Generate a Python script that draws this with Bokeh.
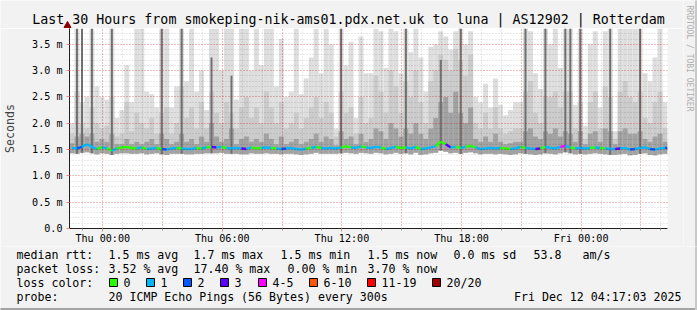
import numpy as np
from datetime import datetime, timedelta
from bokeh.plotting import figure
from bokeh.layouts import column, row
from bokeh.models import (FixedTicker, DatetimeTickFormatter, CustomJSTickFormatter,
                          Range1d, ColumnDataSource)
from bokeh.core.properties import value
from bokeh.embed import file_html
from bokeh.resources import INLINE

# ---------------- data ----------------
TITLE = "Last 30 Hours from smokeping-nik-ams01.pdx.net.uk to luna | AS12902 | Rotterdam"
START = datetime(2025, 12, 10, 22, 20)
END = datetime(2025, 12, 12, 4, 20)
STEP_MIN = 15
LABEL_TICKS = [datetime(2025, 12, 11, 0), datetime(2025, 12, 11, 6), datetime(2025, 12, 11, 12),
               datetime(2025, 12, 11, 18), datetime(2025, 12, 12, 0)]
Y_TICKS = [0.0, 0.5, 1.0, 1.5, 2.0, 2.5, 3.0, 3.5]

# median rtt (ms) per 15-minute column
MEDIAN = [1.53, 1.52, 1.55, 1.60, 1.55, 1.51, 1.54, 1.53, 1.48, 1.52,
          1.54, 1.55, 1.53, 1.52, 1.54, 1.51, 1.52, 1.53, 1.51, 1.50,
          1.52, 1.53, 1.52, 1.51, 1.51, 1.53, 1.52, 1.54, 1.55, 1.54,
          1.55, 1.53, 1.52, 1.53, 1.52, 1.51, 1.54, 1.52, 1.53, 1.54,
          1.53, 1.52, 1.51, 1.52, 1.53, 1.51, 1.50, 1.52, 1.53, 1.55,
          1.53, 1.52, 1.53, 1.52, 1.54, 1.56, 1.54, 1.53, 1.56, 1.54,
          1.53, 1.55, 1.54, 1.51, 1.53, 1.55, 1.53, 1.54, 1.52, 1.55,
          1.51, 1.52, 1.54, 1.56, 1.65, 1.60, 1.54, 1.55, 1.53, 1.55,
          1.57, 1.54, 1.51, 1.52, 1.53, 1.52, 1.53, 1.52, 1.51, 1.52,
          1.55, 1.53, 1.52, 1.51, 1.52, 1.55, 1.53, 1.52, 1.55, 1.57,
          1.54, 1.52, 1.53, 1.52, 1.53, 1.54, 1.53, 1.52, 1.51, 1.51,
          1.52, 1.53, 1.50, 1.51, 1.53, 1.54, 1.51, 1.50, 1.52, 1.53]

# loss colour bucket per column (0:"0",1:"1",2:"2",3:"3",4:"4-5",...)
LOSS_BUCKET = [1, 2, 1, 1, 1, 0, 1, 0, 1, 0, 0, 0, 0, 1, 0, 1, 1, 0, 2, 1,
               1, 0, 1, 1, 1, 0, 1, 0, 3, 1, 0, 1, 1, 1, 3, 1, 0, 0, 1, 1,
               0, 1, 2, 1, 1, 1, 1, 0, 1, 0, 1, 1, 1, 1, 0, 0, 1, 1, 0, 1,
               1, 1, 0, 1, 1, 0, 0, 1, 1, 0, 1, 1, 1, 0, 0, 3, 1, 0, 1, 0,
               0, 1, 1, 1, 1, 1, 0, 0, 1, 1, 0, 1, 1, 3, 0, 1, 1, 1, 4, 1,
               0, 1, 1, 1, 0, 1, 0, 1, 1, 3, 1, 1, 2, 1, 1, 1, 2, 1, 1, 2]

# smoke: lowest ping, and tops of the light / medium / dark bands (ms)
SMOKE_MIN = [1.43, 1.42, 1.44, 1.45, 1.43, 1.41, 1.43, 1.42, 1.40, 1.42,
             1.43, 1.43, 1.42, 1.42, 1.43, 1.41, 1.42, 1.43, 1.41, 1.40,
             1.42, 1.42, 1.42, 1.41, 1.41, 1.42, 1.42, 1.43, 1.43, 1.43,
             1.44, 1.42, 1.42, 1.42, 1.41, 1.41, 1.43, 1.42, 1.42, 1.43,
             1.42, 1.42, 1.41, 1.42, 1.42, 1.41, 1.40, 1.41, 1.42, 1.44,
             1.42, 1.42, 1.42, 1.42, 1.43, 1.44, 1.43, 1.42, 1.44, 1.43,
             1.42, 1.44, 1.43, 1.41, 1.42, 1.44, 1.42, 1.43, 1.41, 1.44,
             1.40, 1.41, 1.43, 1.44, 1.48, 1.46, 1.43, 1.44, 1.42, 1.44,
             1.45, 1.43, 1.41, 1.42, 1.42, 1.41, 1.42, 1.41, 1.40, 1.41,
             1.43, 1.42, 1.41, 1.40, 1.41, 1.43, 1.42, 1.41, 1.43, 1.45,
             1.43, 1.41, 1.42, 1.41, 1.42, 1.43, 1.42, 1.41, 1.40, 1.40,
             1.41, 1.42, 1.39, 1.40, 1.42, 1.43, 1.40, 1.39, 1.41, 1.42]
SMOKE_MAX = [2.00, 3.80, 2.40, 2.50, 3.80, 2.70, 2.50, 2.45, 3.80, 2.10,
             2.25, 3.10, 2.40, 3.80, 3.80, 2.60, 2.55, 2.30, 3.80, 3.80,
             2.30, 2.70, 3.80, 2.80, 3.80, 2.60, 3.00, 2.25, 3.80, 3.80,
             3.00, 3.80, 3.80, 2.45, 3.80, 3.80, 3.00, 3.80, 3.10, 3.80,
             3.80, 2.70, 3.60, 2.50, 2.60, 3.80, 2.55, 2.85, 3.25, 3.80,
             2.95, 3.80, 3.50, 1.90, 3.80, 3.10, 3.55, 2.10, 3.65, 2.95,
             2.95, 3.80, 3.75, 3.05, 3.80, 3.75, 2.95, 3.80, 3.35, 3.80,
             3.25, 2.60, 3.45, 3.50, 3.75, 3.65, 3.40, 3.75, 3.80, 3.50,
             3.75, 2.50, 2.40, 2.75, 2.30, 2.85, 2.35, 2.15, 2.25, 2.40,
             2.40, 3.80, 3.75, 2.95, 2.65, 3.80, 3.50, 3.80, 3.05, 3.80,
             3.80, 2.35, 3.80, 1.95, 3.50, 3.75, 2.30, 3.75, 3.80, 1.85,
             3.80, 3.80, 3.80, 3.80, 3.80, 2.95, 2.80, 3.25, 3.80, 2.40]
SMOKE_MID = [1.80, 2.60, 2.00, 1.90, 2.30, 2.00, 1.90, 1.95, 2.50, 1.75,
             1.80, 2.40, 1.85, 2.20, 2.00, 1.90, 2.10, 1.80, 2.20, 2.30,
             1.80, 2.00, 2.70, 2.10, 2.30, 1.90, 2.40, 1.90, 2.60, 2.20,
             2.00, 2.40, 2.20, 1.90, 2.30, 2.50, 2.10, 2.30, 2.00, 2.60,
             2.30, 2.00, 2.40, 1.90, 2.00, 2.20, 1.90, 2.10, 2.30, 2.50,
             2.10, 2.40, 2.20, 1.75, 2.60, 2.20, 2.30, 1.80, 2.50, 2.00,
             2.10, 2.90, 2.60, 2.20, 3.00, 2.70, 2.20, 2.80, 2.50, 3.00,
             2.40, 2.00, 2.80, 3.00, 3.30, 3.20, 3.00, 3.40, 3.20, 2.90,
             3.30, 2.00, 1.90, 2.20, 1.90, 2.30, 1.90, 1.80, 1.85, 1.90,
             1.90, 2.60, 2.80, 2.20, 2.00, 2.50, 2.50, 2.60, 2.30, 2.60,
             2.60, 1.90, 2.40, 1.70, 2.40, 2.60, 1.90, 2.70, 2.50, 1.70,
             2.60, 2.80, 2.50, 2.40, 2.60, 2.10, 2.00, 2.40, 2.60, 1.90]
SMOKE_DARK = [1.62, 1.75, 1.80, 1.75, 1.80, 1.65, 1.70, 1.65, 1.80, 1.60,
              1.60, 1.70, 1.60, 1.65, 1.60, 1.65, 1.70, 1.60, 1.80, 1.70,
              1.60, 1.65, 1.80, 1.65, 1.70, 1.60, 1.75, 1.65, 2.00, 1.75,
              1.65, 1.70, 1.90, 1.60, 1.70, 1.75, 1.65, 1.70, 1.65, 1.80,
              1.70, 1.60, 1.75, 1.60, 1.65, 1.70, 1.60, 1.65, 1.70, 1.80,
              1.65, 1.75, 1.70, 1.58, 1.85, 1.70, 1.75, 1.60, 1.80, 1.65,
              1.70, 1.90, 1.85, 1.70, 2.00, 1.90, 1.75, 1.90, 1.80, 2.00,
              1.80, 1.70, 1.90, 2.10, 2.40, 2.50, 2.20, 2.60, 2.20, 2.00,
              2.30, 1.70, 1.65, 1.75, 1.65, 1.80, 1.65, 1.60, 1.62, 1.65,
              1.65, 1.85, 1.90, 1.75, 1.70, 1.85, 1.80, 1.90, 1.75, 1.85,
              1.80, 1.65, 1.85, 1.60, 1.80, 1.85, 1.65, 1.90, 1.85, 1.60,
              1.85, 1.90, 1.80, 1.80, 1.85, 1.70, 1.65, 1.75, 1.80, 1.65]
# thin dark outlier streaks: column index and height reached (ms)
SPIKE_COL = [1, 2, 4, 8, 18, 22, 28, 32, 54, 67, 74, 78, 91, 95, 99, 100, 102, 108, 114]
SPIKE_TOP = [3.80, 3.80, 3.80, 3.80, 3.80, 3.80, 3.25, 2.90, 3.80, 3.80, 3.20, 3.80,
             3.80, 3.80, 3.80, 3.80, 3.80, 3.80, 3.80]

MEDIAN_RTT = ["1.5 ms avg", "1.7 ms max", "1.5 ms min", "1.5 ms now", "0.0 ms sd", "53.8", "am/s"]
PACKET_LOSS = ["3.52 % avg", "17.40 % max", "0.00 % min", "3.70 % now"]
LOSS_LABELS = ["0", "1", "2", "3", "4-5", "6-10", "11-19", "20/20"]
LOSS_COLORS = ["#26ff00", "#00b8ff", "#0059ff", "#5e00ff", "#ff00ff", "#ff5500", "#ff0000", "#a00000"]
PROBE = "20 ICMP Echo Pings (56 Bytes) every 300s"
STAMP = "Fri Dec 12 04:17:03 2025"
WATERMARK = "RRDTOOL / TOBI OETIKER"

# ---------------- layout constants ----------------
MONO = "DejaVu Sans Mono"
BG = "#f2f2f2"
W, H = 697, 310
LEFT_W = 683          # width of title strip and main chart
TOP_H = 28            # title strip height
MAIN_H = 218          # main chart height (frame 200 + x labels)
LEG_H = H - TOP_H - MAIN_H
FRAME_H = 200
WM_W = W - LEFT_W


def strip(w, h):
    """A figure whose frame is the whole canvas, in pixel units with y pointing down."""
    f = figure(width=w, height=h, x_range=Range1d(0, w), y_range=Range1d(h, 0),
               output_backend="svg", toolbar_location=None, min_border=0,
               x_axis_location=None, y_axis_location=None,
               background_fill_color=BG, border_fill_color=BG, outline_line_color=None)
    f.grid.visible = False
    return f


def put_text(f, xs, ys, texts, size, color="black", align="left", angle=0.0):
    f.text(x=xs, y=ys, text=texts, text_font=value(MONO), text_font_size=value(size),
           text_color=color, text_align=align, text_baseline="middle", angle=angle)


# ---------------- title strip ----------------
top = strip(LEFT_W, TOP_H)
put_text(top, [348], [19], [TITLE], "13.3px", align="center")
top.scatter(x=[67], y=[25], marker="triangle", size=7, color="#8b0000")

# ---------------- main chart ----------------
p = figure(width=LEFT_W, height=MAIN_H, x_axis_type="datetime",
           x_range=Range1d(START, END), y_range=Range1d(0, 3.8),
           output_backend="svg", toolbar_location=None,
           min_border_left=67, min_border_right=LEFT_W - 667, min_border_top=0,
           min_border_bottom=MAIN_H - FRAME_H,
           background_fill_color="white", border_fill_color=BG, outline_line_color=None)

n = len(MEDIAN)
step = timedelta(minutes=STEP_MIN)
t_left = [START + step * i for i in range(n)]
t_right = [t + step for t in t_left]
t_mid = [t + step / 2 for t in t_left]

src = ColumnDataSource(dict(left=t_left, right=t_right, lo=SMOKE_MIN, hi=SMOKE_MAX,
                            mid=SMOKE_MID, dark=SMOKE_DARK))
p.quad(left="left", right="right", bottom="lo", top="hi", source=src, fill_color="#dedede", line_color=None)
p.quad(left="left", right="right", bottom="lo", top="mid", source=src, fill_color="#cbcbcb", line_color=None)
p.quad(left="left", right="right", bottom="lo", top="dark", source=src, fill_color="#a2a2a2", line_color=None)

spk = ColumnDataSource(dict(x=[t_mid[i] for i in SPIKE_COL], top=SPIKE_TOP,
                            bottom=[SMOKE_MIN[i] for i in SPIKE_COL]))
p.vbar(x="x", top="top", bottom="bottom", width=timedelta(minutes=6), source=spk,
       fill_color="#727272", line_color=None)

seg = ColumnDataSource(dict(
    x0=t_mid, x1=t_mid[1:] + [t_right[-1]],
    y0=MEDIAN, y1=MEDIAN[1:] + [MEDIAN[-1]],
    c=[LOSS_COLORS[b] for b in LOSS_BUCKET]))
p.segment(x0="x0", y0="y0", x1="x1", y1="y1", color="c", line_width=2.4, source=seg)


def ms(d):
    return (d - datetime(1970, 1, 1)).total_seconds() * 1000.0


hours = [datetime(2025, 12, 10, 23) + timedelta(hours=h) for h in range(30)]
hour_ticks = [ms(d) for d in hours]
grid3 = [ms(d) for d in hours if d.hour % 3 == 0]
p.xgrid.ticker = FixedTicker(ticks=grid3, minor_ticks=hour_ticks)
p.ygrid.ticker = FixedTicker(ticks=Y_TICKS, minor_ticks=[i / 10 for i in range(39)])
for g in (p.xgrid, p.ygrid):
    g.level = "overlay"
    g.grid_line_color = "#ff0000"
    g.grid_line_alpha = 0.36
    g.grid_line_dash = "1 2"
    g.minor_grid_line_color = "#000000"
    g.minor_grid_line_alpha = 0.17
    g.minor_grid_line_dash = "1 2"

xa = p.xaxis[0]
xa.ticker = FixedTicker(ticks=[ms(d) for d in LABEL_TICKS], minor_ticks=hour_ticks)
xa.formatter = DatetimeTickFormatter(hours="%a %H:%M", hourmin="%a %H:%M", days="%a %H:%M",
                                     minutes="%a %H:%M", months="%a %H:%M")
ya = p.yaxis[0]
ya.ticker = FixedTicker(ticks=Y_TICKS, minor_ticks=[])
ya.formatter = CustomJSTickFormatter(code="return tick == 0 ? '0.0' : tick.toFixed(1) + ' m'")
ya.axis_label = "Seconds"
ya.axis_label_text_font = MONO
ya.axis_label_text_font_size = "11.6px"
ya.axis_label_text_font_style = "normal"
ya.axis_label_standoff = 12
for a in (xa, ya):
    a.major_label_text_font = MONO
    a.major_label_text_font_size = "10.1px"
    a.major_label_text_color = "black"
    a.axis_line_color = "#202020"
    a.major_tick_line_color = "#ff8080"
    a.minor_tick_line_color = "#a0a0a0"
    a.major_tick_in = 0
    a.major_tick_out = 3
    a.minor_tick_in = 0
    a.minor_tick_out = 2
xa.major_label_standoff = 1
ya.major_label_standoff = 4

# ---------------- watermark strip (right of title + chart) ----------------
wm = strip(WM_W, TOP_H + MAIN_H)
put_text(wm, [689 - LEFT_W], [5], [WATERMARK], "8px", color="#aeaeae", angle=-np.pi / 2)
wm.quad(left=[WM_W - 2], right=[WM_W], top=[0], bottom=[TOP_H + MAIN_H], color="#c8c8c8")

# ---------------- legend strip ----------------
leg = strip(W, LEG_H)
rows = [8, 22, 36, 50]
put_text(leg, [16], [rows[0]], ["median rtt:"], "11.6px")
put_text(leg, [108, 193, 280, 367, 453, 533, 582], [rows[0]] * len(MEDIAN_RTT), MEDIAN_RTT, "11.6px")
put_text(leg, [16], [rows[1]], ["packet loss:"], "11.6px")
put_text(leg, [108, 193, 287, 367], [rows[1]] * len(PACKET_LOSS), PACKET_LOSS, "11.6px")
put_text(leg, [16], [rows[2]], ["loss color:"], "11.6px")
box_x = [109, 146, 183, 220, 258, 309, 367, 432]
leg.quad(left=box_x, right=[b + 8 for b in box_x], top=[rows[2] - 4] * 8, bottom=[rows[2] + 4] * 8,
         fill_color=LOSS_COLORS, line_color="black", line_width=1)
put_text(leg, [b + 14 for b in box_x], [rows[2]] * 8, LOSS_LABELS, "11.6px")
put_text(leg, [16], [rows[3]], ["probe:"], "11.6px")
put_text(leg, [108], [rows[3]], [PROBE], "11.6px")
put_text(leg, [681], [rows[3]], [STAMP], "11.6px", align="right")
leg.quad(left=[0], right=[W], top=[LEG_H - 2], bottom=[LEG_H], color="#a4a4a4")
leg.quad(left=[W - 2], right=[W], top=[0], bottom=[LEG_H], color="#c8c8c8")

left_block = column(row(top, spacing=0), row(p, spacing=0), spacing=0)
layout = column(row(left_block, column(wm, spacing=0), spacing=0), leg, spacing=0)
open("out.html", "w").write(file_html(layout, INLINE))
